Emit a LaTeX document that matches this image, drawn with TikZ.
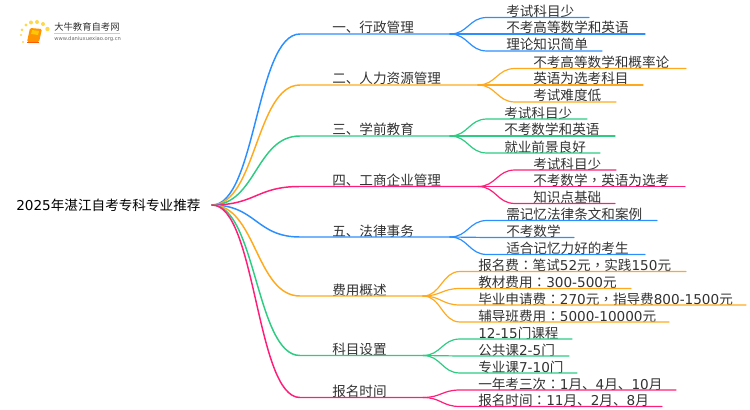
\documentclass[tikz,border=0pt]{standalone}
\usepackage{fontspec}
\setmainfont{Noto Sans CJK SC}
\newfontfamily\latinfont{DejaVu Sans}
\newfontfamily\tcfont{Noto Sans CJK TC}
\newcommand{\lat}[1]{{\latinfont #1}}
\newcommand{\tcp}[1]{{\tcfont #1}}
\usetikzlibrary{positioning}
\definecolor{branchblue}{RGB}{43, 143, 255}
\definecolor{branchorange}{RGB}{255, 170, 30}
\definecolor{branchgreen}{RGB}{45, 204, 130}
\definecolor{branchpink}{RGB}{255, 30, 120}
\definecolor{textgray}{RGB}{50, 50, 50}
\tikzset{
  rootlabel/.style={anchor=base west, inner sep=0pt, font=\fontsize{10.2pt}{12pt}\selectfont, text=black},
  branchlabel/.style={anchor=base west, inner sep=0pt, font=\fontsize{10.2pt}{12pt}\selectfont, text=textgray},
  leaflabel/.style={anchor=base west, inner sep=0pt, font=\fontsize{10.2pt}{12pt}\selectfont, text=textgray},
  wire/.style={line width=1.1pt, line cap=round},
  twig/.style={line width=0.9pt, line cap=round}
}

\begin{document}
\begin{tikzpicture}[x=0.75pt, y=-0.75pt]
  \useasboundingbox (0,0) rectangle (750,410);

  % Logo
  \foreach \x/\y/\r in {26/25/1.7,31/22.5/2,37/22/2,43/24/2,47.5/29/2.2,22/30/1.5,21/35/1.2,23/42/1.1} {
    \fill[orange!45!yellow!70] (\x,\y) circle (\r);
  }
  \fill[orange!85!yellow, rounded corners=1pt] (30,28) -- (42,29) -- (39,42) -- (27,42) -- cycle;
  \fill[yellow!60!orange] (32,30) -- (39,31) -- (38,35) -- (31,34) -- cycle;
  \draw[orange!70!red, line width=0.6pt] (27,42) -- (39,42);
  \node[anchor=base west, inner sep=0pt, font=\fontsize{7pt}{8pt}\selectfont, text=textgray] (logotitle) at (54,31) {大牛教育自考网};
  \draw[black!20, line width=0.4pt] (54,33.5) -- (120,33.5);
  \node[anchor=base west, inner sep=0pt, font=\latinfont\fontsize{3.9pt}{5pt}\selectfont, text=black!60] (logourl) at (54,41) {www.daniuxuexiao.org.cn};

  % Root
  \node[rootlabel] (root) at (16,210) {\lat{2025}年湛江自考专科专业推荐};
  \coordinate (o) at (212,205);

  % Branch 1
  \node[branchlabel] (b1) at (332,33) {一、行政管理};
  \coordinate (e1) at (300,34);
  \coordinate (f1) at (450,34);
  \draw[wire, branchblue] (o) .. controls (256,205) and (256,34) .. (e1) -- (f1);
  \foreach \yc/\xe/\txt [count=\i] in {17.5/589/考试科目少,34/645/不考高等数学和英语,51/602/理论知识简单} {
    \node[leaflabel] (t1\i) at (506,\yc-1) {\txt};
    \coordinate (s1\i) at (487,\yc);
    \coordinate (u1\i) at (\xe,\yc);
    \draw[twig, branchblue] (f1) .. controls +(18,0) and +(-18,0) .. (s1\i) -- (u1\i);
  }

  % Branch 2
  \node[branchlabel] (b2) at (332,84) {二、人力资源管理};
  \coordinate (e2) at (300,85);
  \coordinate (f2) at (478,85);
  \draw[wire, branchorange] (o) .. controls (256,205) and (256,85) .. (e2) -- (f2);
  \foreach \yc/\xe/\txt [count=\i] in {68.5/686/不考高等数学和概率论,85/643/英语为选考科目,102/616/考试难度低} {
    \node[leaflabel] (t2\i) at (533,\yc-1) {\txt};
    \coordinate (s2\i) at (515,\yc);
    \coordinate (u2\i) at (\xe,\yc);
    \draw[twig, branchorange] (f2) .. controls +(18,0) and +(-18,0) .. (s2\i) -- (u2\i);
  }

  % Branch 3
  \node[branchlabel] (b3) at (332,135) {三、学前教育};
  \coordinate (e3) at (300,136);
  \coordinate (f3) at (450,136);
  \draw[wire, branchgreen] (o) .. controls (256,205) and (256,136) .. (e3) -- (f3);
  \foreach \yc/\xe/\txt [count=\i] in {119/587/考试科目少,136/615/不考数学和英语,153/600/就业前景良好} {
    \node[leaflabel] (t3\i) at (504,\yc-1) {\txt};
    \coordinate (s3\i) at (487,\yc);
    \coordinate (u3\i) at (\xe,\yc);
    \draw[twig, branchgreen] (f3) .. controls +(18,0) and +(-18,0) .. (s3\i) -- (u3\i);
  }

  % Branch 4
  \node[branchlabel] (b4) at (332,185.5) {四、工商企业管理};
  \coordinate (e4) at (300,186.5);
  \coordinate (f4) at (478,186.5);
  \draw[wire, branchpink] (o) .. controls (256,205) and (256,186.5) .. (e4) -- (f4);
  \foreach \yc/\xe/\txt [count=\i] in {170/616/考试科目少,186.5/685/不考数学\tcp{，}英语为选考,203.5/615/知识点基础} {
    \node[leaflabel] (t4\i) at (533,\yc-1) {\txt};
    \coordinate (s4\i) at (515,\yc);
    \coordinate (u4\i) at (\xe,\yc);
    \draw[twig, branchpink] (f4) .. controls +(18,0) and +(-18,0) .. (s4\i) -- (u4\i);
  }

  % Branch 5
  \node[branchlabel] (b5) at (332,236) {五、法律事务};
  \coordinate (e5) at (300,237);
  \coordinate (f5) at (450,237);
  \draw[wire, branchblue] (o) .. controls (256,205) and (256,237) .. (e5) -- (f5);
  \foreach \yc/\xe/\txt [count=\i] in {220.5/657/需记忆法律条文和案例,237.5/574/不考数学,254.5/645/适合记忆力好的考生} {
    \node[leaflabel] (t5\i) at (506,\yc-1) {\txt};
    \coordinate (s5\i) at (487,\yc);
    \coordinate (u5\i) at (\xe,\yc);
    \draw[twig, branchblue] (f5) .. controls +(18,0) and +(-18,0) .. (s5\i) -- (u5\i);
  }

  % Branch 6
  \node[branchlabel] (b6) at (332,295) {费用概述};
  \coordinate (e6) at (300,296);
  \coordinate (f6) at (423,296);
  \draw[wire, branchorange] (o) .. controls (256,205) and (256,296) .. (e6) -- (f6);
  \foreach \yc/\xe/\txt [count=\i] in {271.5/686/报名费\tcp{：}笔试\lat{52}元\tcp{，}实践\lat{150}元,288.5/631/教材费用\tcp{：}\lat{300-500}元,305/746/毕业申请费\tcp{：}\lat{270}元\tcp{，}指导费\lat{800-1500}元,322/669/辅导班费用\tcp{：}\lat{5000-10000}元} {
    \node[leaflabel] (t6\i) at (478,\yc-1) {\txt};
    \coordinate (s6\i) at (460,\yc);
    \coordinate (u6\i) at (\xe,\yc);
    \draw[twig, branchorange] (f6) .. controls +(18,0) and +(-18,0) .. (s6\i) -- (u6\i);
  }

  % Branch 7
  \node[branchlabel] (b7) at (332,354.5) {科目设置};
  \coordinate (e7) at (300,355.5);
  \coordinate (f7) at (423,355.5);
  \draw[wire, branchgreen] (o) .. controls (256,205) and (256,355.5) .. (e7) -- (f7);
  \foreach \yc/\xe/\txt [count=\i] in {339/572/\lat{12-15}门课程,356/569/公共课\lat{2-5}门,373/577/专业课\lat{7-10}门} {
    \node[leaflabel] (t7\i) at (478,\yc-1) {\txt};
    \coordinate (s7\i) at (460,\yc);
    \coordinate (u7\i) at (\xe,\yc);
    \draw[twig, branchgreen] (f7) .. controls +(18,0) and +(-18,0) .. (s7\i) -- (u7\i);
  }

  % Branch 8
  \node[branchlabel] (b8) at (332,396.5) {报名时间};
  \coordinate (e8) at (300,397.5);
  \coordinate (f8) at (423,397.5);
  \draw[wire, branchpink] (o) .. controls (256,205) and (256,397.5) .. (e8) -- (f8);
  \foreach \yc/\xe/\txt [count=\i] in {390/676/一年考三次\tcp{：}\lat{1}月、\lat{4}月、\lat{10}月,406.5/662/报名时间\tcp{：}\lat{11}月、\lat{2}月、\lat{8}月} {
    \node[leaflabel] (t8\i) at (478,\yc-1) {\txt};
    \coordinate (s8\i) at (460,\yc);
    \coordinate (u8\i) at (\xe,\yc);
    \draw[twig, branchpink] (f8) .. controls +(18,0) and +(-18,0) .. (s8\i) -- (u8\i);
  }
\end{tikzpicture}
\end{document}
